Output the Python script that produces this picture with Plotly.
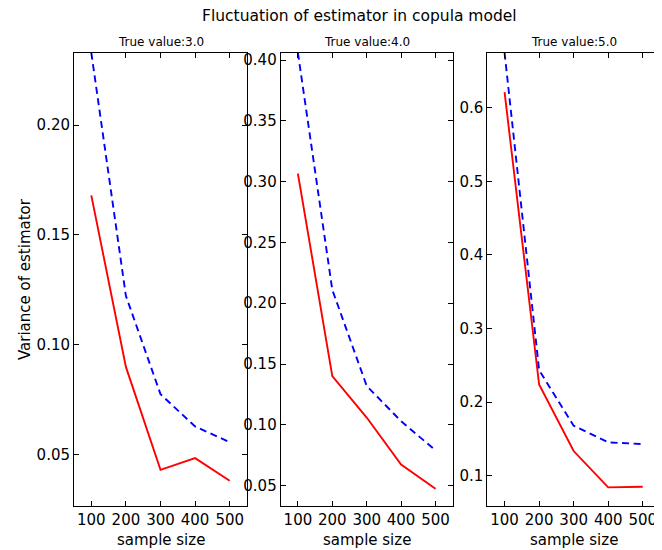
import plotly.graph_objects as go

sample_sizes = [100, 200, 300, 400, 500]
true_values = [3.0, 4.0, 5.0]
red_series = [
    [0.168, 0.090, 0.0432, 0.0485, 0.0382],
    [0.3066, 0.140, 0.106, 0.0673, 0.0475],
    [0.621, 0.224, 0.1336, 0.0842, 0.0851],
]
blue_series = [
    [0.2329, 0.1223, 0.0776, 0.0629, 0.0558],
    [0.406, 0.211, 0.132, 0.103, 0.079],
    [0.6747, 0.2435, 0.168, 0.1454, 0.143],
]
y_ticks = [
    [0.05, 0.10, 0.15, 0.20],
    [0.05, 0.10, 0.15, 0.20, 0.25, 0.30, 0.35, 0.40],
    [0.1, 0.2, 0.3, 0.4, 0.5, 0.6],
]
y_tick_text = [
    ["0.05", "0.10", "0.15", "0.20"],
    ["0.05", "0.10", "0.15", "0.20", "0.25", "0.30", "0.35", "0.40"],
    ["0.1", "0.2", "0.3", "0.4", "0.5", "0.6"],
]

# page has an 8px body margin; figure sized to the visible area
OFF = 8
W, H = 662 - OFF, 550 - OFF


def px(x):
    return (x - OFF) / W


def py(y):
    return 1 - (y - OFF) / H


x_domains = [(74, 247), (280.7, 452.7), (487.3, 660)]
y_dom = [py(506), py(52.7)]
FONT = "DejaVu Sans"

fig = go.Figure()
layout = dict(
    width=W, height=H, margin=dict(l=0, r=0, t=0, b=0, autoexpand=False),
    plot_bgcolor="white", paper_bgcolor="white", showlegend=False,
    font=dict(family=FONT, color="black"),
)
annotations = []


def label(text, x, y, size, angle=0):
    return dict(text=text, x=px(x), y=py(y), xref="paper", yref="paper",
                xanchor="center", yanchor="middle", showarrow=False, borderpad=0,
                textangle=angle, font=dict(size=size, family=FONT, color="black"))


for i in range(3):
    xa = "x" if i == 0 else f"x{i+1}"
    ya = "y" if i == 0 else f"y{i+1}"
    fig.add_trace(go.Scatter(x=sample_sizes, y=red_series[i], mode="lines",
                             line=dict(color="red", width=1.9), xaxis=xa, yaxis=ya))
    fig.add_trace(go.Scatter(x=sample_sizes, y=blue_series[i], mode="lines",
                             line=dict(color="blue", width=1.9, dash="7px,4.5px"),
                             xaxis=xa, yaxis=ya))
    ymin = 0.7 * min(red_series[i] + blue_series[i])
    ymax = max(red_series[i] + blue_series[i])
    d = x_domains[i]
    common = dict(showline=True, linecolor="black", linewidth=1, mirror="ticks",
                  ticks="inside", ticklen=5, tickcolor="black", tickwidth=1,
                  showgrid=False, zeroline=False, tickfont=dict(size=15, family=FONT))
    layout["xaxis" if i == 0 else f"xaxis{i+1}"] = dict(
        domain=[px(d[0]), px(d[1])], range=[50, 550], anchor=ya,
        tickvals=sample_sizes, ticktext=[str(s) for s in sample_sizes], **common)
    layout["yaxis" if i == 0 else f"yaxis{i+1}"] = dict(
        domain=y_dom, range=[ymin, ymax], anchor=xa,
        tickvals=y_ticks[i], ticktext=y_tick_text[i], **common)
    cx = (d[0] + d[1]) / 2
    annotations.append(label(f"True value:{true_values[i]:.1f}", cx, 42, 12))
    annotations.append(label("sample size", cx, 540, 15))

annotations.append(label("Fluctuation of estimator in copula model", 359, 16.5, 15.5))
annotations.append(label("Variance of estimator", 25, 279, 15, -90))
layout["annotations"] = annotations
fig.update_layout(**layout)
fig.write_html("out.html")
